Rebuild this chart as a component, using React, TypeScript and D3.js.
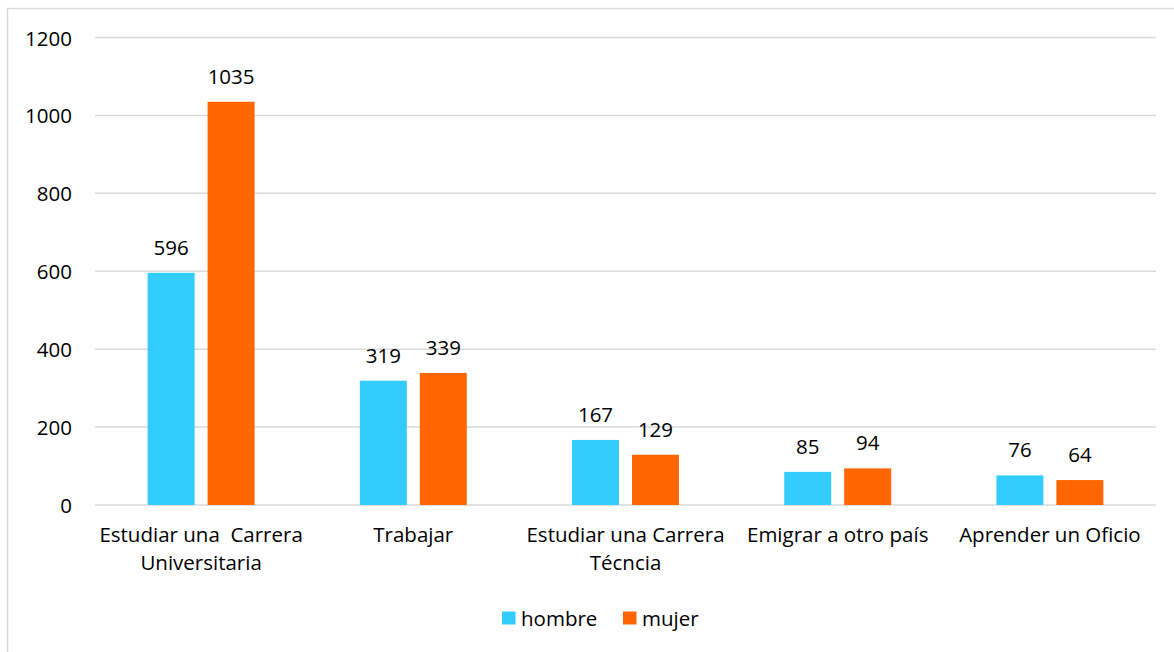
import React from "react";
import { scaleBand, scaleLinear } from "d3";

const categories = [
  ["Estudiar una  Carrera", "Universitaria"],
  ["Trabajar"],
  ["Estudiar una Carrera", "Técncia"],
  ["Emigrar a otro país"],
  ["Aprender un Oficio"],
];
const seriesNames = ["hombre", "mujer"];
const hombre = [596, 319, 167, 85, 76];
const mujer = [1035, 339, 129, 94, 64];
const yTicks = [0, 200, 400, 600, 800, 1000, 1200];
const colors = ["#33CCFF", "#FF6600"];

const W = 1174;
const H = 652;
const margin = { top: 37.5, right: 18, bottom: 147, left: 95 };
const font = "'Open Sans', sans-serif";
const fs = 20.5;

const App = () => {
  const innerWidth = W - margin.left - margin.right;
  const innerHeight = H - margin.top - margin.bottom;
  const values = [hombre, mujer];

  const xScale = scaleBand()
    .domain(categories.map((c, i) => String(i)))
    .range([0, innerWidth])
    .paddingInner(0.496)
    .paddingOuter(0.248);
  const subScale = scaleBand()
    .domain(seriesNames)
    .range([0, xScale.bandwidth()])
    .paddingInner(0.2167);
  const yScale = scaleLinear().domain([0, 1200]).range([innerHeight, 0]);

  const legendX = 502;
  const legendY = 618;

  return (
    <svg
      width={W}
      height={H}
      style={{ position: "absolute", left: 0, top: 0, background: "#fff" }}
    >
      {/* chart frame, cut off at right and bottom like the source */}
      <rect x={7.5} y={8.5} width={W + 20} height={H + 20} fill="#fff" stroke="#d9d9d9" strokeWidth={1.5} />
      <g transform={`translate(${margin.left},${margin.top})`}>
        {yTicks.map((t) => (
          <g key={t}>
            <line x1={0} x2={innerWidth} y1={yScale(t)} y2={yScale(t)} stroke="#d9d9d9" strokeWidth={1.5} />
            <text
              x={-23}
              y={yScale(t)}
              textAnchor="end"
              dominantBaseline="central"
              fontFamily={font}
              fontSize={fs}
              fill="#000"
            >
              {t}
            </text>
          </g>
        ))}
        {categories.map((cat, i) => {
          const x0 = xScale(String(i));
          const cx = x0 + xScale.bandwidth() / 2;
          return (
            <g key={i}>
              {seriesNames.map((s, j) => {
                const v = values[j][i];
                const bx = x0 + subScale(s);
                return (
                  <g key={s}>
                    <rect
                      x={bx}
                      y={yScale(v)}
                      width={subScale.bandwidth()}
                      height={innerHeight - yScale(v)}
                      fill={colors[j]}
                    />
                    <text
                      x={bx + subScale.bandwidth() / 2}
                      y={yScale(v) - 18}
                      textAnchor="middle"
                      fontFamily={font}
                      fontSize={fs}
                      fill="#000"
                    >
                      {v}
                    </text>
                  </g>
                );
              })}
              {cat.map((line, k) => (
                <text
                  key={k}
                  x={cx}
                  y={innerHeight + 37 + k * 28}
                  textAnchor="middle"
                  fontFamily={font}
                  fontSize={fs}
                  fill="#000"
                  style={{ whiteSpace: "pre" }}
                >
                  {line}
                </text>
              ))}
            </g>
          );
        })}
      </g>
      {/* legend */}
      <g transform={`translate(${legendX},${legendY})`}>
        {seriesNames.map((s, j) => (
          <g key={s} transform={`translate(${j * 121},0)`}>
            <rect x={0} y={-6.5} width={13.5} height={13} fill={colors[j]} />
            <text x={19} y={0} dominantBaseline="central" fontFamily={font} fontSize={fs} fill="#000">
              {s}
            </text>
          </g>
        ))}
      </g>
    </svg>
  );
};

export default App;
